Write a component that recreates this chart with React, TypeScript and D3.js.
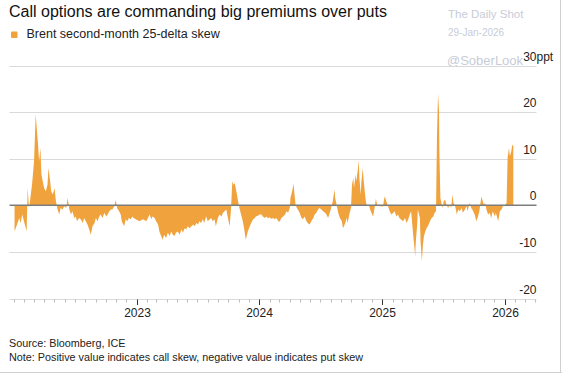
import React from "react";
import * as d3 from "d3";

const width = 562;
const height = 374;
const font = "'Liberation Sans', Arial, Helvetica, sans-serif";
const orange = "#f0a33c";

// Brent second-month 25-delta skew, ppt
const dates2022 = [
  "2022-01-03", "2022-01-07", "2022-01-12", "2022-01-17", "2022-01-21", "2022-01-26", "2022-01-31",
  "2022-02-04", "2022-02-08", "2022-02-11", "2022-02-15", "2022-02-18", "2022-02-24",
  "2022-03-02", "2022-03-07", "2022-03-10", "2022-03-14", "2022-03-17", "2022-03-21", "2022-03-24", "2022-03-28",
  "2022-04-01", "2022-04-06", "2022-04-11", "2022-04-14", "2022-04-19", "2022-04-22", "2022-04-27",
  "2022-05-02", "2022-05-06", "2022-05-11", "2022-05-16", "2022-05-20", "2022-05-26", "2022-05-31",
  "2022-06-06", "2022-06-10", "2022-06-15", "2022-06-20", "2022-06-24", "2022-06-30",
  "2022-07-04", "2022-07-08", "2022-07-14", "2022-07-19", "2022-07-25", "2022-07-29",
  "2022-08-03", "2022-08-08", "2022-08-12", "2022-08-18", "2022-08-23", "2022-08-29",
  "2022-09-02", "2022-09-07", "2022-09-12", "2022-09-16", "2022-09-22", "2022-09-27",
  "2022-10-03", "2022-10-07", "2022-10-12", "2022-10-17", "2022-10-21", "2022-10-27", "2022-10-31",
  "2022-11-04", "2022-11-10", "2022-11-15", "2022-11-18", "2022-11-25", "2022-11-30",
  "2022-12-05", "2022-12-09", "2022-12-15", "2022-12-20", "2022-12-23", "2022-12-30",
];
const skew2022 = [
  -5.6, -4.8, -3.8, -2.7, -3.8, -2.0, -3.4,
  -4.5, -5.6, 3.7, -0.6, 0.9, 4.4,
  9.4, 19.6, 16.6, 13.0, 9.4, 12.3, 6.6, 5.1,
  3.7, 3.0, 4.4, 8.0, 5.1, 3.0, 2.3,
  3.7, 0.9, -0.9, -2.0, -0.6, -0.9, -0.2,
  -0.6, 1.6, -0.9, -2.0, -1.3, -2.7,
  -2.4, -3.4, -2.7, -3.0, -3.8, -2.7,
  -3.4, -4.1, -4.9, -6.3, -4.5, -3.8,
  -2.7, -3.4, -2.4, -2.0, -2.7, -1.6,
  -2.4, -2.0, -1.3, -0.9, -0.9, -0.2, 1.2,
  -0.6, -1.3, -2.0, -3.4, -4.5, -3.0,
  -3.4, -2.7, -3.0, -2.4, -2.7, -3.0,
];

const dates2023 = [
  "2023-01-04", "2023-01-10", "2023-01-20", "2023-01-30",
  "2023-02-09", "2023-02-14", "2023-02-17", "2023-02-24", "2023-02-28",
  "2023-03-06", "2023-03-10", "2023-03-15", "2023-03-20", "2023-03-24", "2023-03-30",
  "2023-04-04", "2023-04-10", "2023-04-14", "2023-04-19", "2023-04-24", "2023-04-28",
  "2023-05-04", "2023-05-09", "2023-05-15", "2023-05-19", "2023-05-24", "2023-05-29",
  "2023-06-02", "2023-06-08", "2023-06-13", "2023-06-19", "2023-06-23", "2023-06-28",
  "2023-07-03", "2023-07-07", "2023-07-12", "2023-07-17", "2023-07-21", "2023-07-27",
  "2023-08-01", "2023-08-07", "2023-08-11", "2023-08-16", "2023-08-21", "2023-08-25", "2023-08-31",
  "2023-09-05", "2023-09-11", "2023-09-15", "2023-09-20", "2023-09-25", "2023-09-29",
  "2023-10-05", "2023-10-09", "2023-10-11", "2023-10-13", "2023-10-17", "2023-10-20", "2023-10-25", "2023-10-30",
  "2023-11-03", "2023-11-08", "2023-11-13", "2023-11-17", "2023-11-22", "2023-11-28",
  "2023-12-04", "2023-12-08", "2023-12-14", "2023-12-19", "2023-12-22", "2023-12-29",
];
const skew2023 = [
  -3.2, -3.4, -3.0, -3.4,
  -2.0, -3.0, -2.4, -2.7, -3.4,
  -4.1, -5.6, -6.6, -7.4, -6.3, -7.0,
  -5.9, -6.6, -5.6, -6.3, -6.6, -5.9,
  -5.6, -6.3, -5.2, -5.9, -4.9, -5.2,
  -4.5, -4.9, -4.5, -4.1, -4.5, -3.8,
  -4.1, -3.4, -3.8, -3.0, -3.8, -2.4,
  -3.4, -3.0, -2.7, -3.4, -3.0, -4.5, -2.7,
  -2.0, -2.4, -1.6, -1.3, -0.9, -2.4,
  -4.5, -0.9, 2.3, 5.1, 4.4, 4.8, 3.0, 0.9,
  -0.6, -2.0, -3.4, -4.9, -7.4, -5.6,
  -4.5, -3.8, -3.0, -2.7, -2.4, -2.2,
];

const dates2024 = [
  "2024-01-02", "2024-01-08", "2024-01-12", "2024-01-17", "2024-01-22", "2024-01-26",
  "2024-02-01", "2024-02-06", "2024-02-12", "2024-02-16", "2024-02-21", "2024-02-26",
  "2024-03-01", "2024-03-07", "2024-03-12", "2024-03-18", "2024-03-22", "2024-03-27",
  "2024-04-01", "2024-04-03", "2024-04-08", "2024-04-12", "2024-04-15", "2024-04-18", "2024-04-22", "2024-04-25", "2024-04-30",
  "2024-05-06", "2024-05-10", "2024-05-15", "2024-05-20", "2024-05-24", "2024-05-30",
  "2024-06-04", "2024-06-10", "2024-06-14", "2024-06-19", "2024-06-24", "2024-06-28",
  "2024-07-04", "2024-07-09", "2024-07-15", "2024-07-19", "2024-07-24", "2024-07-29",
  "2024-08-02", "2024-08-07", "2024-08-12", "2024-08-14", "2024-08-19", "2024-08-23", "2024-08-28",
  "2024-09-03", "2024-09-06", "2024-09-09", "2024-09-13", "2024-09-17", "2024-09-20", "2024-09-25", "2024-09-30",
  "2024-10-03", "2024-10-07", "2024-10-09", "2024-10-14", "2024-10-16", "2024-10-21", "2024-10-23", "2024-10-25", "2024-10-29", "2024-10-31",
  "2024-11-04", "2024-11-06", "2024-11-11", "2024-11-14", "2024-11-18", "2024-11-22", "2024-11-26",
  "2024-12-02", "2024-12-05", "2024-12-10", "2024-12-13", "2024-12-17", "2024-12-23", "2024-12-30",
];
const skew2024 = [
  -2.0, -2.0, -2.4, -2.7, -2.4, -2.7,
  -2.6, -2.9, -2.7, -3.0, -2.7, -3.3,
  -3.6, -2.7, -2.4, -2.0, -1.3, -1.6,
  -0.6, 1.6, 3.0, 4.6, 2.3, 0.1, -0.6, -0.9, -1.6,
  -2.7, -3.0, -2.4, -3.3, -3.8, -4.1,
  -3.4, -2.7, -2.0, -1.6, -0.9, -0.6,
  -0.9, -1.3, -1.6, -2.0, -2.7, -1.6,
  -0.6, 0.9, 3.4, 1.6, -0.2, -1.6, -2.7,
  -3.4, -4.9, -4.5, -3.8, -2.7, -3.8, -2.0, -0.6,
  4.4, 5.9, 3.7, 6.6, 5.1, 8.0, 9.8, 5.9, 2.3, 5.1,
  8.0, 5.9, 2.3, 0.5, -0.2, 0.1, -0.9,
  -2.0, -2.4, -0.2, 1.4, 0.1, -0.2, -0.2,
];

const dates2025 = [
  "2025-01-03", "2025-01-08", "2025-01-10", "2025-01-15", "2025-01-20", "2025-01-23", "2025-01-28",
  "2025-02-03", "2025-02-07", "2025-02-12", "2025-02-17", "2025-02-21", "2025-02-27",
  "2025-03-04", "2025-03-10", "2025-03-14", "2025-03-19", "2025-03-24", "2025-03-28",
  "2025-04-03", "2025-04-07", "2025-04-09", "2025-04-11", "2025-04-15", "2025-04-17", "2025-04-23", "2025-04-25", "2025-04-29",
  "2025-05-02", "2025-05-05", "2025-05-09", "2025-05-13", "2025-05-19", "2025-05-23", "2025-05-28",
  "2025-06-02", "2025-06-06", "2025-06-10", "2025-06-13", "2025-06-16", "2025-06-19", "2025-06-20", "2025-06-23", "2025-06-26", "2025-06-30",
  "2025-07-03", "2025-07-07", "2025-07-11", "2025-07-16", "2025-07-21", "2025-07-25", "2025-07-29",
  "2025-08-01", "2025-08-06", "2025-08-11", "2025-08-15", "2025-08-20", "2025-08-25", "2025-08-29",
  "2025-09-04", "2025-09-09", "2025-09-12", "2025-09-18", "2025-09-23", "2025-09-26",
  "2025-10-03", "2025-10-08", "2025-10-13", "2025-10-17", "2025-10-23", "2025-10-27", "2025-10-30",
  "2025-11-03", "2025-11-07", "2025-11-12", "2025-11-17", "2025-11-21", "2025-11-26",
  "2025-12-02", "2025-12-05", "2025-12-12", "2025-12-17", "2025-12-22", "2025-12-26",
];
const skew2025 = [
  -0.3, 1.9, 1.6, 0.5, -0.6, -1.3, -2.0,
  -1.6, -1.3, -2.4, -2.0, -2.7, -3.1,
  -3.4, -2.7, -3.8, -3.1, -2.0, -1.3,
  -6.3, -9.2, -11.0, -7.7, -4.2, -0.9, -2.7, -7.7, -12.0,
  -8.5, -6.7, -5.6, -4.9, -4.2, -3.4, -2.7,
  -2.4, -1.6, -1.3, 15.2, 24.0, 20.2, 11.6, 1.6, 0.5, -0.6,
  0.9, 1.2, 0.1, -0.6, 0.1, -0.6, 2.3,
  0.5, -0.2, -2.0, -0.9, -1.3, -0.6, -1.6,
  -0.9, -0.2, -1.3, 0.5, -0.6, -0.9,
  -2.0, -3.4, -2.4, -1.3, 1.9, 0.9, 0.1,
  0.5, -0.9, -2.0, -1.6, -2.7, -1.3,
  -2.4, -1.6, -3.4, -1.3, -0.9, -0.2,
];

const dates2026 = ["2026-01-02", "2026-01-06", "2026-01-09", "2026-01-13", "2026-01-16", "2026-01-20", "2026-01-23", "2026-01-26"];
const skew2026 = [0.1, 0.5, 10.2, 12.3, 10.5, 11.6, 13.0, 12.7];

const yTicks = [-20, -10, 0, 10, 20, 30];
const yearTicks = ["2023-01-01", "2024-01-01", "2025-01-01", "2026-01-01"];

const title = "Call options are commanding big premiums over puts";
const legendLabel = "Brent second-month 25-delta skew";
const sourceText = "Source: Bloomberg, ICE";
const noteText = "Note: Positive value indicates call skew, negative value indicates put skew";

const parse = d3.timeParse("%Y-%m-%d");

const data = [
  ...dates2022.map((d, i) => ({ date: parse(d), value: skew2022[i] })),
  ...dates2023.map((d, i) => ({ date: parse(d), value: skew2023[i] })),
  ...dates2024.map((d, i) => ({ date: parse(d), value: skew2024[i] })),
  ...dates2025.map((d, i) => ({ date: parse(d), value: skew2025[i] })),
  ...dates2026.map((d, i) => ({ date: parse(d), value: skew2026[i] })),
];

const x = d3
  .scaleTime()
  .domain([new Date(2021, 11, 19), new Date(2026, 3, 5)])
  .range([9.5, 536.5]);

const y = d3.scaleLinear().domain([-20, 30]).range([298.5, 65.5]);

const area = d3
  .area<{ date: Date; value: number }>()
  .x((d) => x(d.date))
  .y0(y(0))
  .y1((d) => y(d.value));

export default function App() {
  const months = d3.timeMonth.range(new Date(2022, 0, 1), new Date(2026, 3, 2));
  const base = Math.round(y(-20)) + 0.5;

  return (
    <svg
      width={width}
      height={height}
      style={{ position: "absolute", left: 0, top: 0, background: "#fff" }}
      fontFamily={font}
    >
      {/* title + legend */}
      <text x={9} y={17} fontSize={16} fill="#111">{title}</text>
      <rect x={11} y={31.5} width={6.5} height={6.5} rx={1} fill={orange} />
      <text x={26.5} y={38} fontSize={12.5} fill="#222">{legendLabel}</text>

      {/* watermark */}
      <g fill="#c8ccd8">
        <text x={448} y={17.5} fontSize={11.5}>The Daily Shot</text>
        <text x={448} y={35.5} fontSize={10}>29-Jan-2026</text>
        <text x={447} y={65} fontSize={13}>@SoberLook</text>
      </g>

      {/* gridlines */}
      {yTicks.map((t) => {
        const yy = Math.round(y(t)) + 0.5;
        return (
          <g key={t}>
            {t !== 0 && (
              <line x1={9.5} x2={536.5} y1={yy} y2={yy} stroke="#d9d9d9" strokeWidth={1} />
            )}
            <text
              x={536.5}
              y={yy - 5.5}
              fontSize={12}
              textAnchor="end"
              fill="#222"
            >
              {t}
            </text>
            {t === 30 && (
              <text x={536.5} y={yy - 5.5} fontSize={12} fill="#222">ppt</text>
            )}
          </g>
        );
      })}

      {/* month ticks */}
      {months.map((m, i) => (
        <line
          key={i}
          x1={Math.round(x(m)) + 0.5}
          x2={Math.round(x(m)) + 0.5}
          y1={base}
          y2={base + 3}
          stroke="#bdbdbd"
        />
      ))}
      {yearTicks.map((d) => {
        const xx = Math.round(x(parse(d) as Date)) + 0.5;
        return (
          <g key={d}>
            <line x1={xx} x2={xx} y1={base} y2={base + 5.5} stroke="#333" strokeWidth={1} />
            <text x={xx} y={317} fontSize={12} textAnchor="middle" fill="#222">
              {d.slice(0, 4)}
            </text>
          </g>
        );
      })}

      {/* skew area */}
      <path d={area(data as any) || ""} fill={orange} />
      <line
        x1={9.5}
        x2={536.5}
        y1={y(0)}
        y2={y(0)}
        stroke="#7d7d7d"
        strokeWidth={1.6}
      />

      {/* footer */}
      <text x={9} y={347} fontSize={10.8} fill="#222">{sourceText}</text>
      <text x={9} y={361} fontSize={10.8} fill="#222">{noteText}</text>

      {/* frame */}
      <line x1={0} x2={562} y1={372.5} y2={372.5} stroke="#d0d0d0" />
      <line x1={560.5} x2={560.5} y1={0} y2={373} stroke="#d0d0d0" />
    </svg>
  );
}
